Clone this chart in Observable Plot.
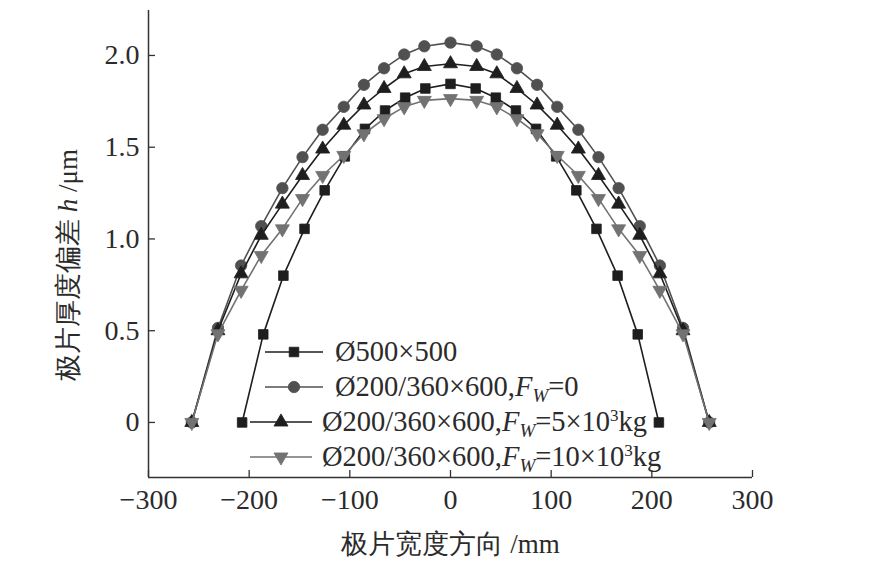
<!DOCTYPE html>
<html><head><meta charset="utf-8">
<script src="https://cdn.jsdelivr.net/npm/d3@7"></script>
<script src="https://cdn.jsdelivr.net/npm/@observablehq/plot@0.6"></script>
<style>
body{margin:0;background:#fff;}
#wrap{position:relative;width:891px;height:582px;background:#fff;}
.leg{position:absolute;font-family:"Liberation Serif","Times New Roman",serif;font-size:28.5px;color:#2b2b2b;white-space:nowrap;display:flex;align-items:center;height:32px;}
.leg sub{font-size:19px;vertical-align:-6px;line-height:0;}
.leg sup{font-size:17px;vertical-align:10px;line-height:0;}
</style></head><body><div id="wrap"></div>
<script>
// ---- data ----
const seriesNames = ["Ø500×500", "Ø200/360×600,FW=0", "Ø200/360×600,FW=5×10³kg", "Ø200/360×600,FW=10×10³kg"];
const xSquare = [-207,-186,-166,-145,-125,-105,-85,-65,-45,-25,0,25,45,65,85,105,125,145,166,186,207];
const ySquare = [0,0.48,0.80,1.055,1.265,1.45,1.60,1.70,1.77,1.82,1.845,1.82,1.77,1.70,1.60,1.45,1.265,1.055,0.80,0.48,0];
const xRoll = [-257,-231,-208,-188,-167,-147,-127,-106,-86,-66,-46,-26,0,26,46,66,86,106,127,147,167,188,208,231,257];
const yFw0 = [0,0.515,0.855,1.07,1.277,1.446,1.595,1.72,1.84,1.93,2.005,2.05,2.07,2.05,2.005,1.93,1.84,1.72,1.595,1.446,1.277,1.07,0.855,0.515,0];
const yFw5 = [0,0.50,0.81,1.02,1.19,1.346,1.49,1.62,1.73,1.82,1.90,1.94,1.955,1.94,1.90,1.82,1.73,1.62,1.49,1.346,1.19,1.02,0.81,0.50,0];
const yFw10 = [0,0.483,0.72,0.91,1.055,1.22,1.346,1.455,1.573,1.655,1.72,1.755,1.765,1.755,1.72,1.655,1.573,1.455,1.346,1.22,1.055,0.91,0.72,0.483,0];
const xTicks = [-300,-200,-100,0,100,200,300];
const yTicks = [0,0.5,1.0,1.5,2.0];
const xDomain = [-300,300];
const yDomain = [-0.3,2.245];
const xLabel = "极片宽度方向 /mm";
const yLabel = "极片厚度偏差 h /μm";

// ---- styles ----
const triangleDown = {
  draw(ctx, size) {
    const s3 = Math.sqrt(3);
    const y = -Math.sqrt(size / (s3 * 3));
    ctx.moveTo(0, -y * 2);
    ctx.lineTo(-s3 * y, y);
    ctx.lineTo(s3 * y, y);
    ctx.closePath();
  }
};
const styles = [
  {x: xSquare, y: ySquare, color: "#1e1e1e", symbol: "square", d3sym: d3.symbolSquare, r: 5.4},
  {x: xRoll, y: yFw0, color: "#505050", symbol: "circle", d3sym: d3.symbolCircle, r: 5.7},
  {x: xRoll, y: yFw5, color: "#1e1e1e", symbol: "triangle", d3sym: d3.symbolTriangle, r: 5.2},
  {x: xRoll, y: yFw10, color: "#727272", symbol: triangleDown, d3sym: triangleDown, r: 5.2}
];
const axisColor = "#333";
const W = 891, H = 582, mL = 148, mR = 139, mT = 10, mB = 105;
const plotW = W - mL - mR, plotH = H - mT - mB;

const seriesMarks = styles.flatMap((s, i) => {
  const data = s.x.map((x, j) => ({x, y: s.y[j], series: seriesNames[i]}));
  return [
    Plot.line(data, {x: "x", y: "y", stroke: s.color, strokeWidth: 1.6}),
    Plot.dot(data, {x: "x", y: "y", symbol: () => s.symbol, fill: s.color, stroke: s.color, strokeWidth: 0.8, r: s.r})
  ];
});

const chart = Plot.plot({
  width: W, height: H,
  marginLeft: mL, marginRight: mR, marginTop: mT, marginBottom: mB,
  style: {fontFamily: '"Liberation Serif","Times New Roman",serif', fontSize: "28px", color: "#2b2b2b", background: "white", overflow: "visible"},
  x: {domain: xDomain, ticks: xTicks},
  y: {domain: yDomain, ticks: yTicks},
  symbol: {type: "identity"},
  marks: [
    Plot.ruleX([xDomain[0]], {stroke: axisColor, strokeWidth: 1.5}),
    Plot.ruleY([yDomain[0]], {stroke: axisColor, strokeWidth: 1.5}),
    Plot.tickY(yTicks, {y: d => d, insetRight: plotW - 7, stroke: axisColor, strokeWidth: 1.3}),
    Plot.tickX(xTicks, {x: d => d, insetTop: plotH - 7, stroke: axisColor, strokeWidth: 1.3}),
    Plot.axisY(yTicks, {tickSize: 0, tickPadding: 9, label: null, fontSize: 28, tickFormat: d => d === 0 ? "0" : d.toFixed(1)}),
    Plot.axisX(xTicks, {tickSize: 0, tickPadding: 12, label: null, fontSize: 28}),
    Plot.text([xLabel], {frameAnchor: "bottom", dy: 75, fontSize: 27, fill: "#2b2b2b"}),
    Plot.text([yLabel], {frameAnchor: "left", textAnchor: "middle", rotate: -90, dx: -80, dy: 21, fontSize: 27, fill: "#2b2b2b"}),
    ...seriesMarks
  ]
});

const wrap = document.getElementById("wrap");
wrap.appendChild(chart);
// italic h in y label
chart.querySelectorAll("text").forEach(t => {
  if (t.textContent === yLabel) {
    t.innerHTML = '极片厚度偏差 <tspan font-style="italic">h</tspan> /μm';
  }
});

// ---- legend ----
const legendRows = [
  {html: "Ø500×500", top: 352, lineLeft: 265, lineW: 58, textLeft: 335},
  {html: "Ø200/360×600,<i>F</i><sub><i>W</i></sub>=0", top: 387, lineLeft: 265, lineW: 58, textLeft: 335},
  {html: "Ø200/360×600,<i>F</i><sub><i>W</i></sub>=5×10<sup>3</sup>kg", top: 422, lineLeft: 250, lineW: 62, textLeft: 322},
  {html: "Ø200/360×600,<i>F</i><sub><i>W</i></sub>=10×10<sup>3</sup>kg", top: 457, lineLeft: 250, lineW: 62, textLeft: 322}
];
legendRows.forEach((row, i) => {
  const s = styles[i];
  const div = document.createElement("div");
  div.className = "leg";
  div.style.left = row.lineLeft + "px";
  div.style.top = (row.top - 16) + "px";
  const w = row.lineW, h = 20;
  const path = d3.symbol().type(s.d3sym).size(Math.PI * s.r * s.r)();
  div.innerHTML = `<svg width="${w}" height="${h}" style="margin-right:${row.textLeft - row.lineLeft - w}px"><line x1="0" x2="${w}" y1="${h/2}" y2="${h/2}" stroke="${s.color}" stroke-width="1.6"/><path d="${path}" transform="translate(${w/2},${h/2})" fill="${s.color}" stroke="${s.color}" stroke-width="0.8"/></svg><span>${row.html}</span>`;
  wrap.appendChild(div);
});
</script>
</body></html>
